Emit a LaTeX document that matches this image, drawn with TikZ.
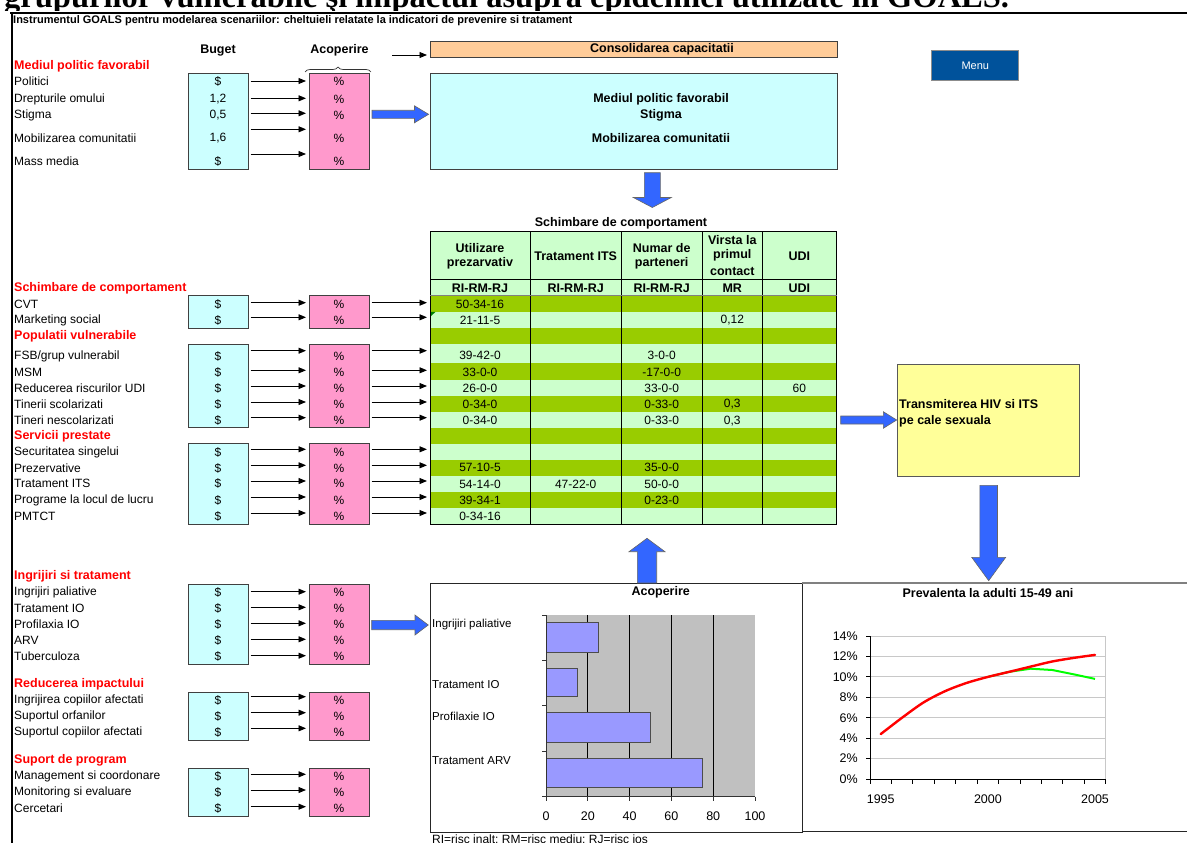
\documentclass[tikz,border=0pt]{standalone}
\usepackage{fontspec}
\setmainfont{Liberation Sans}
\newfontfamily\serifttl{Liberation Serif}
\usetikzlibrary{arrows.meta,decorations.pathreplacing,fit}
\definecolor{cyanbox}{HTML}{CCFFFF}
\definecolor{pinkbox}{HTML}{FF99CC}
\definecolor{orangebox}{HTML}{FFCC99}
\definecolor{lgreen}{HTML}{CCFFCC}
\definecolor{dgreen}{HTML}{99CC00}
\definecolor{yellowbox}{HTML}{FFFF99}
\definecolor{bluearrow}{HTML}{3366FF}
\definecolor{menublue}{HTML}{00529B}
\definecolor{barfill}{HTML}{9999FF}
\definecolor{plotgray}{HTML}{C0C0C0}
\definecolor{gridgray}{HTML}{C8C8C8}
\definecolor{redtxt}{HTML}{FF0000}
\definecolor{redline}{HTML}{FF0000}
\definecolor{greenline}{HTML}{00FF00}
\newcommand\fatH[6]{%
  \filldraw[fatarrow] (#2,{#1-#5}) -- (#3,{#1-#5}) -- (#3,{#1-#6}) -- (#4,#1) -- (#3,{#1+#6}) -- (#3,{#1+#5}) -- (#2,{#1+#5}) -- cycle;}
\newcommand\fatV[6]{%
  \filldraw[fatarrow] ({#1-#5},#2) -- ({#1-#5},#3) -- ({#1-#6},#3) -- (#1,#4) -- ({#1+#6},#3) -- ({#1+#5},#3) -- ({#1+#5},#2) -- cycle;}
\begin{document}
\begin{tikzpicture}[x=1pt,y=-1pt,
  labtxt/.style={anchor=west,inner sep=0pt,font=\fontsize{12}{14}\selectfont},
  redhead/.style={anchor=west,inner sep=0pt,font=\fontsize{12.5}{14}\selectfont\bfseries,text=redtxt},
  valtxt/.style={inner sep=0pt,font=\fontsize{12}{14}\selectfont},
  boldtxt/.style={inner sep=0pt,font=\fontsize{12.5}{14}\selectfont\bfseries},
  chartnum/.style={inner sep=0pt,font=\fontsize{12.5}{14}\selectfont},
  catlab/.style={anchor=west,inner sep=0pt,font=\fontsize{11.5}{13}\selectfont},
  smallarrow/.style={-{Triangle[length=7.5pt,width=6pt]},line width=0.9pt,shorten <=2pt,shorten >=2.5pt},
  boxst/.style={draw=black!75,line width=1pt,inner sep=0pt},
  fatarrow/.style={fill=bluearrow,draw=black!60,line width=0.6pt,line join=miter},
]
\useasboundingbox (0,0) rectangle (1187,843);
\clip (0,0) rectangle (1187,843);

% ---------- title and frame
\node[anchor=base west,inner sep=0pt,font=\serifttl\fontsize{32.5}{36}\selectfont\bfseries] (title) at (4,7.5) {grupurilor vulnerabile şi impactul asupra epidemiei utilizate în GOALS.};
\fill[white] (0,11.5) rectangle (1187,18);
\draw[line width=2.5pt] (10,12.8) -- (1187,12.8);
\draw[line width=2pt] (11.5,12) -- (11.5,843);
\node[anchor=west,inner sep=0pt,font=\fontsize{11}{13}\selectfont\bfseries] (subt) at (13,20.5) {Instrumentul GOALS pentru modelarea scenariilor: cheltuieli relatate la indicatori de prevenire si tratament};

% ---------- column heads
\node[boldtxt] (hbuget) at (218,50.7) {Buget};
\node[boldtxt] (hacop) at (339.5,50.7) {Acoperire};
\draw[decorate,decoration={brace,amplitude=5pt},line width=0.7pt,black!80] (305,72) -- (371,72);

% ---------- Consolidarea
\node[boxst,fill=orangebox,fit={(430,41.7) (837,57.7)}] (cons) {};
\node[boldtxt] (constxt) at (662,49.7) {Consolidarea capacitatii};
\coordinate (consfrom) at (392,55);
\draw[smallarrow,shorten <=0pt] (consfrom) -- (cons.west |- consfrom);

% ---------- Menu
\node[draw=black!45,line width=1.2pt,fill=menublue,text=white,font=\fontsize{11}{13}\selectfont,minimum width=87pt,minimum height=30pt,inner sep=0pt] (menu) at (975.3,65.9) {Menu};

% ---------- Mediul politic group
\node[redhead] (h1) at (14,66.7) {Mediul politic favorabil};
\node[labtxt] (l1a) at (14,81.7) {Politici};
\node[labtxt] (l1b) at (14,99) {Drepturile omului};
\node[labtxt] (l1c) at (14,115) {Stigma};
\node[labtxt] (l1d) at (14,138.3) {Mobilizarea comunitatii};
\node[labtxt] (l1e) at (14,161.7) {Mass media};
\node[boxst,fill=cyanbox,fit={(188,74) (248,169)}] (cb1) {};
\node[boxst,fill=pinkbox,fit={(309,74) (369,169)}] (pb1) {};
\node[valtxt] (d1a) at (218,81.7) {\$};
\node[valtxt] (d1b) at (218,99) {1,2};
\node[valtxt] (d1c) at (218,115) {0,5};
\node[valtxt] (d1d) at (218,138.3) {1,6};
\node[valtxt] (d1e) at (218,161.7) {\$};
\foreach \y [count=\i] in {81.7,99,115,138.3,161.7} \node[valtxt] (q1\i) at (339,\y) {\%};
\foreach \y [count=\i] in {81,98.3,113.3,129.3,154} {
  \coordinate (ya\i) at (0,\y);
  \draw[smallarrow] (cb1.east |- ya\i) -- (pb1.west |- ya\i);
}
\fatH{114.3}{372}{414.5}{428.6}{4}{8.5}
\node[boxst,fill=cyanbox,fit={(430,74) (837,169)}] (pol) {};
\node[boldtxt] (pt1) at (661,99) {Mediul politic favorabil};
\node[boldtxt] (pt2) at (661,115) {Stigma};
\node[boldtxt] (pt3) at (661,138.3) {Mobilizarea comunitatii};
\fatV{652.3}{172.7}{197.5}{207.5}{8}{19}

% ---------- table
\node[boldtxt] (tbltitle) at (621,223.3) {Schimbare de comportament};
\fill[lgreen] (430,231) rectangle (836.7,295.3);
\foreach \a/\b/\c in {295.3/311.7/dgreen,311.7/327.5/lgreen,327.5/344/dgreen,344/363.3/lgreen,363.3/380/dgreen,380/396/lgreen,396/412.3/dgreen,412.3/428.3/lgreen,428.3/443.5/dgreen,443.5/459.5/lgreen,459.5/475.7/dgreen,475.7/491.7/lgreen,491.7/507.7/dgreen,507.7/524.3/lgreen}
  \fill[\c] (430,\a) rectangle (836.7,\b);
\fill[green!50!black] (430.5,311.9) -- (435.5,311.9) -- (430.5,316.5) -- cycle;
\node[draw=black,line width=1pt,fit={(430,231) (836.7,524.3)},inner sep=0pt] (tbl) {};
\foreach \x in {530,621.7,702,762} \draw[line width=1pt] (\x,231) -- (\x,524.3);
\draw[line width=1pt] (430,279) -- (836.7,279);
\draw[line width=0.8pt,black!50] (430,295.3) -- (836.7,295.3);
% header
\node[boldtxt] (th1a) at (480,247.7) {Utilizare};
\node[boldtxt] (th1b) at (480,263) {prezarvativ};
\node[boldtxt] (th2) at (575.7,256) {Tratament ITS};
\node[boldtxt] (th3a) at (661.7,247.7) {Numar de};
\node[boldtxt] (th3b) at (661.7,263) {parteneri};
\node[boldtxt] (th4a) at (732.3,239.7) {Virsta la};
\node[boldtxt] (th4b) at (732.3,255.7) {primul};
\node[boldtxt] (th4c) at (732.3,271.7) {contact};
\node[boldtxt] (th5) at (799.3,256) {UDI};
\node[boldtxt] (ts1) at (480,288) {RI-RM-RJ};
\node[boldtxt] (ts2) at (575.7,288) {RI-RM-RJ};
\node[boldtxt] (ts3) at (661.7,288) {RI-RM-RJ};
\node[boldtxt] (ts4) at (732.3,288) {MR};
\node[boldtxt] (ts5) at (799.3,288) {UDI};
% values
\foreach \y/\t [count=\i] in {304.3/50-34-16,320.3/21-11-5,355.7/39-42-0,372.3/33-0-0,388.3/26-0-0,404.3/0-34-0,420.7/0-34-0,467.7/57-10-5,484/54-14-0,500/39-34-1,516/0-34-16}
  \node[valtxt] (c1v\i) at (480,\y) {\t};
\node[valtxt] (c2v1) at (575.7,484) {47-22-0};
\foreach \y/\t [count=\i] in {355.7/3-0-0,372.3/-17-0-0,388.3/33-0-0,404.3/0-33-0,420.7/0-33-0,467.7/35-0-0,484/50-0-0,500/0-23-0}
  \node[valtxt] (c3v\i) at (661.7,\y) {\t};
\node[valtxt] (c4v1) at (732.3,320.3) {0,12};
\node[valtxt] (c4v2) at (732.3,404.3) {0,3};
\node[valtxt] (c4v3) at (732.3,420.7) {0,3};
\node[valtxt] (c5v1) at (799.3,388.3) {60};

% ---------- behaviour groups
\node[redhead] (h2) at (14,288) {Schimbare de comportament};
\node[redhead] (h3) at (14,336.7) {Populatii vulnerabile};
\node[redhead] (h4) at (14,436) {Servicii prestate};
\node[boxst,fill=cyanbox,fit={(188,295) (248,328.3)}] (cb2) {};
\node[boxst,fill=pinkbox,fit={(309,295) (369,328.3)}] (pb2) {};
\node[boxst,fill=cyanbox,fit={(188,344.3) (248,427.7)}] (cb3) {};
\node[boxst,fill=pinkbox,fit={(309,344.3) (369,427.7)}] (pb3) {};
\node[boxst,fill=cyanbox,fit={(188,443.3) (248,524.3)}] (cb4) {};
\node[boxst,fill=pinkbox,fit={(309,443.3) (369,524.3)}] (pb4) {};
\foreach \t/\y [count=\i] in {CVT/304,Marketing social/320.3} {
  \node[labtxt] (l2\i) at (14,\y) {\t};
  \node[valtxt] (d2\i) at (218,\y) {\$};
  \node[valtxt] (q2\i) at (339,\y) {\%};
}
\node[labtxt] (l30) at (14,356.7) {FSB/grup vulnerabil};
\foreach \y in {356.7} {
  \node[valtxt] (d30) at (218,\y) {\$};
  \node[valtxt] (q30) at (339,\y) {\%};
}
\foreach \t/\y [count=\i] in {MSM/372.3,Reducerea riscurilor UDI/388.3,Tinerii scolarizati/404.3,Tineri nescolarizati/420.3} {
  \node[labtxt] (l3\i) at (14,\y) {\t};
  \node[valtxt] (d3\i) at (218,\y) {\$};
  \node[valtxt] (q3\i) at (339,\y) {\%};
}
\foreach \t/\y [count=\i] in {Securitatea singelui/452,Prezervative/468,Tratament ITS/483.3,Programe la locul de lucru/500,PMTCT/516} {
  \node[labtxt] (l4\i) at (14,\y) {\t};
  \node[valtxt] (d4\i) at (218,\y) {\$};
  \node[valtxt] (q4\i) at (339,\y) {\%};
}
\foreach \y [count=\i] in {302.7,317.3} {
  \coordinate (yb\i) at (0,\y);
  \draw[smallarrow] (cb2.east |- yb\i) -- (pb2.west |- yb\i);
  \draw[smallarrow] (pb2.east |- yb\i) -- (tbl.west |- yb\i);
}
\foreach \y [count=\i] in {350.7,370.3,386,402,417.7} {
  \coordinate (yc\i) at (0,\y);
  \draw[smallarrow] (cb3.east |- yc\i) -- (pb3.west |- yc\i);
  \draw[smallarrow] (pb3.east |- yc\i) -- (tbl.west |- yc\i);
}
\foreach \y [count=\i] in {449.3,465.3,481,497,513} {
  \coordinate (yd\i) at (0,\y);
  \draw[smallarrow] (cb4.east |- yd\i) -- (pb4.west |- yd\i);
  \draw[smallarrow] (pb4.east |- yd\i) -- (tbl.west |- yd\i);
}

% ---------- transmission box
\fatH{420}{840.7}{883.3}{896.7}{4}{8.3}
\node[draw=black!65,line width=1pt,fill=yellowbox,fit={(897,364) (1079,476)},inner sep=0pt] (trans) {};
\node[anchor=west,boldtxt] (tr1) at (899,404.3) {Transmiterea HIV si ITS};
\node[anchor=west,boldtxt] (tr2) at (899,421) {pe cale sexuala};
\fatV{988.7}{485.3}{557.3}{580.7}{8.8}{17}

% ---------- lower groups
\node[redhead] (h5) at (14,576) {Ingrijiri si tratament};
\node[redhead] (h6) at (14,684.3) {Reducerea impactului};
\node[redhead] (h7) at (14,760.7) {Suport de program};
\node[boxst,fill=cyanbox,fit={(188,584) (248,664.3)}] (cb5) {};
\node[boxst,fill=pinkbox,fit={(309,584) (369,664.3)}] (pb5) {};
\node[boxst,fill=cyanbox,fit={(188,692) (248,740.3)}] (cb6) {};
\node[boxst,fill=pinkbox,fit={(309,692) (369,740.3)}] (pb6) {};
\node[boxst,fill=cyanbox,fit={(188,768) (248,816)}] (cb7) {};
\node[boxst,fill=pinkbox,fit={(309,768) (369,816)}] (pb7) {};
\foreach \t/\y [count=\i] in {Ingrijiri paliative/592.7,Tratament IO/608.3,Profilaxia IO/624,ARV/640,Tuberculoza/656.7} {
  \node[labtxt] (l5\i) at (14,\y) {\t};
  \node[valtxt] (d5\i) at (218,\y) {\$};
  \node[valtxt] (q5\i) at (339,\y) {\%};
}
\foreach \t/\y [count=\i] in {Ingrijirea copiilor afectati/700.3,Suportul orfanilor/716,Suportul copiilor afectati/732.7} {
  \node[labtxt] (l6\i) at (14,\y) {\t};
  \node[valtxt] (d6\i) at (218,\y) {\$};
  \node[valtxt] (q6\i) at (339,\y) {\%};
}
\foreach \t/\y [count=\i] in {Management si coordonare/776.7,Monitoring si evaluare/792.3,Cercetari/808.3} {
  \node[labtxt] (l7\i) at (14,\y) {\t};
  \node[valtxt] (d7\i) at (218,\y) {\$};
  \node[valtxt] (q7\i) at (339,\y) {\%};
}
\foreach \y [count=\i] in {591.7,607.3,623.3,639.3,655.7} {
  \coordinate (ye\i) at (0,\y);
  \draw[smallarrow] (cb5.east |- ye\i) -- (pb5.west |- ye\i);
}
\foreach \y [count=\i] in {696.7,712.7,728.3} {
  \coordinate (yf\i) at (0,\y);
  \draw[smallarrow] (cb6.east |- yf\i) -- (pb6.west |- yf\i);
}
\foreach \y [count=\i] in {774.3,790,806.7} {
  \coordinate (yg\i) at (0,\y);
  \draw[smallarrow] (cb7.east |- yg\i) -- (pb7.west |- yg\i);
}
\fatH{625}{371.7}{415}{428.3}{4.7}{10}

% ---------- chart panels
\node[draw=black!85,line width=0.8pt,fit={(430,583) (802,832.7)},inner sep=0pt] (barpanel) {};
\node[draw=black!85,line width=0.8pt,fit={(802,583) (1195,831.7)},inner sep=0pt] (linepanel) {};
\draw[black!50,line width=1.5pt] (802,583) -- (1187,583);
\fatV{647}{583}{551.7}{538.3}{9.7}{18}

% ---------- bar chart
\node[boldtxt] (bartitle) at (660.7,592) {Acoperire};
\fill[plotgray] (546,615) rectangle (755,796.7);
\foreach \x in {587.8,629.6,671.4,713.2} \draw[line width=0.8pt] (\x,615) -- (\x,796.7);
\foreach \a/\b/\v in {622.7/652.3/25,668.3/696/15,712.7/742/50,758.7/787.3/75}
  \draw[fill=barfill,draw=black!70,line width=0.8pt] (546,\a) rectangle ({546+2.09*\v},\b);
\draw[black!80,line width=0.8pt] (546,615) -- (546,796.7) -- (755,796.7);
\foreach \y in {615,660.4,705.8,751.3,796.7} \draw[black!80,line width=0.8pt] (542,\y) -- (546,\y);
\foreach \v [count=\i] in {0,20,...,100} {
  \draw[black!80,line width=0.8pt] ({546+2.09*\v},796.7) -- ({546+2.09*\v},801);
  \node[chartnum] (bx\i) at ({546+2.09*\v},816) {\v};
}
\node[catlab] (bc1) at (432,625) {Ingrijiri paliative};
\node[catlab] (bc2) at (432,685) {Tratament IO};
\node[catlab] (bc3) at (432,716) {Profilaxie IO};
\node[catlab] (bc4) at (432,760.7) {Tratament ARV};
\node[anchor=north west,inner sep=0pt,font=\fontsize{12}{14}\selectfont] (foot) at (432,835) {RI=risc inalt; RM=risc mediu; RJ=risc jos};

% ---------- line chart
\node[boldtxt] (linetitle) at (988,592.7) {Prevalenta la adulti 15-49 ani};
\foreach \v in {2,4,...,12} \draw[gridgray,line width=0.8pt] (870,{779-10.214*\v}) -- (1105.7,{779-10.214*\v});
\draw[gridgray,line width=0.8pt] (870,636) -- (1105.7,636) -- (1105.7,779);
\draw[black,line width=0.8pt] (870,636) -- (870,779) -- (1105.7,779);
\foreach \v [count=\i] in {0,2,...,14} {
  \draw[line width=0.8pt] (866,{779-10.214*\v}) -- (870,{779-10.214*\v});
  \node[chartnum,anchor=east] (ly\i) at (858,{779-10.214*\v}) {\v\%};
}
\foreach \k in {0,...,11} \draw[line width=0.8pt] ({870+21.43*\k},779) -- ({870+21.43*\k},783.5);
\node[chartnum] (lx1) at (880.7,799.3) {1995};
\node[chartnum] (lx2) at (987.9,799.3) {2000};
\node[chartnum] (lx3) at (1095,799.3) {2005};
\draw[greenline,line width=2pt,line join=round] plot coordinates {(987.9,676.9) (1009.3,671.8) (1030.7,668.7) (1052.2,670.0) (1073.6,674.3) (1095.0,678.9)};
\draw[redline,line width=2.4pt,line join=round,line cap=round] plot[smooth,tension=0.5] coordinates {(880.7,734.1) (902.1,717.7) (923.6,702.4) (945.0,691.2) (966.4,683.0) (987.9,676.9) (1009.3,671.8) (1030.7,666.6) (1052.2,661.5) (1073.6,657.9) (1095.0,654.9)};
\end{tikzpicture}
\end{document}
